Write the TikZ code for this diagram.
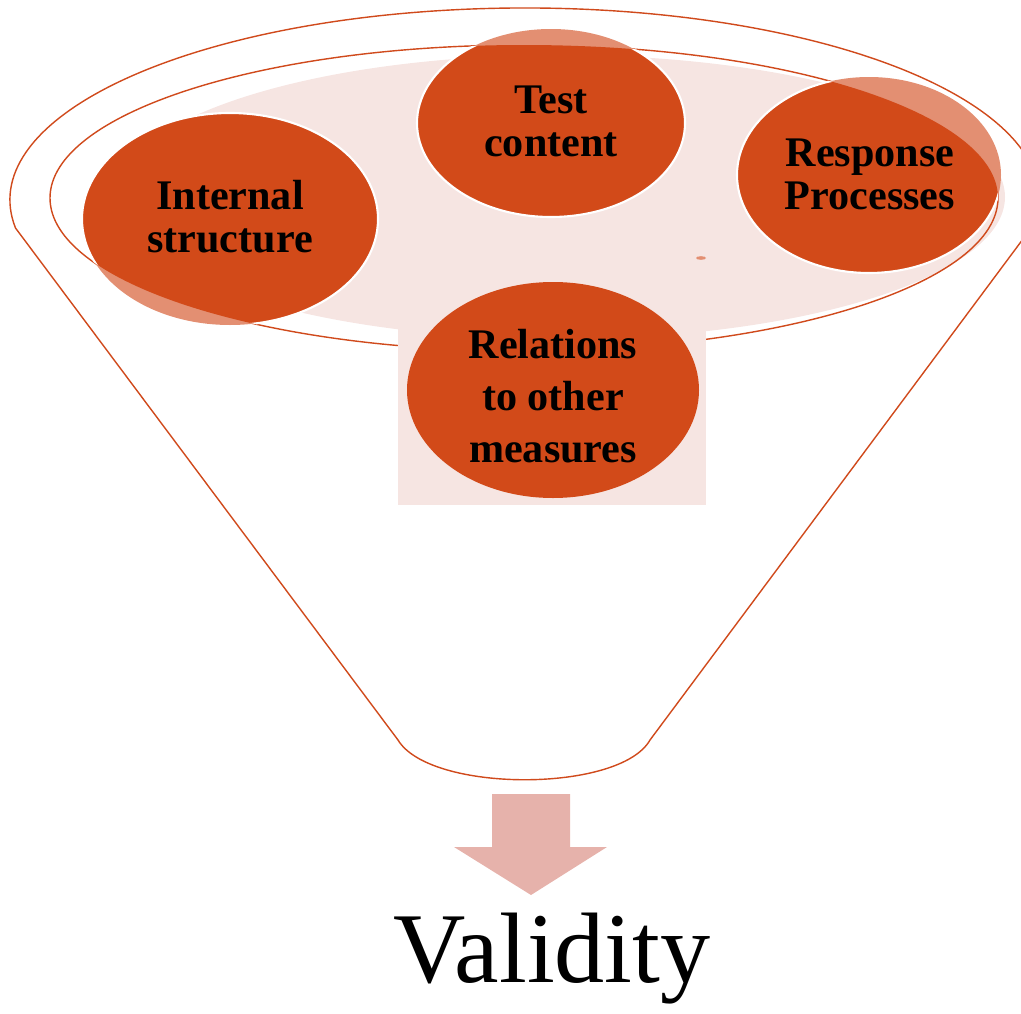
\documentclass[tikz,border=0pt]{standalone}
\usepackage{fontspec}
\setmainfont{Liberation Serif}
\usepackage{tikz}
\usetikzlibrary{shapes.geometric}
\definecolor{FunnelRed}{HTML}{D04A1C}
\definecolor{BubbleRed}{HTML}{D24A19}
\definecolor{BubbleFade}{HTML}{E38F72}
\definecolor{RimPink}{HTML}{F6E5E2}
\definecolor{ArrowPink}{HTML}{E6B2AB}

\begin{document}
\begin{tikzpicture}[x=0.02cm,y=-0.02cm,rim/.style={draw=FunnelRed,line width=0.8pt},bubble/.style={fill=BubbleRed,draw=white,line width=1.2pt},bubbletext/.style={align=center,text=black,font=\fontsize{24}{24.5}\selectfont\bfseries},result/.style={anchor=base,text=black,font=\fontsize{57}{60}\selectfont}]
  \useasboundingbox (0,0) rectangle (1021,1014);
  % funnel body
  \coordinate (rimL) at (15.5,228);
  \coordinate (bowlR) at (650,740);
  \coordinate (bowlL) at (398,740);
  \fill[RimPink] (560,197) ellipse[x radius=445,y radius=142];
  \draw[rim] (rimL) arc[start angle=171.6,end angle=366,x radius=515,y radius=192] -- (bowlR) .. controls (620,793) and (430,793) .. (bowlL) -- cycle;
  \draw[rim] (524,198) ellipse[x radius=474,y radius=153];
  \fill[RimPink] (398,290) rectangle (706,505);
  \fill[BubbleFade] (701,258) ellipse[x radius=5,y radius=1.8];
  % bubbles, faded where they leave the rim
  \foreach \x/\y/\a/\b in {230/219/148/106,551/123/134/94,869/175/132/98}
    \fill[BubbleFade] (\x,\y) ellipse[x radius=\a,y radius=\b];
  \begin{scope}
    \clip (524,198) ellipse[x radius=474,y radius=153];
    \foreach \x/\y/\a/\b in {230/219/148/106,551/123/134/94,869/175/132/98}
      \filldraw[bubble] (\x,\y) ellipse[x radius=\a,y radius=\b];
  \end{scope}
  \fill[BubbleRed] (553,390) ellipse[x radius=146,y radius=108];
  \node[bubbletext] (internal) at (230,217) {Internal\\structure};
  \node[bubbletext] (test) at (551,121) {Test\\content};
  \node[bubbletext] (response) at (870,174) {Response\\Processes};
  \node[bubbletext,font=\fontsize{24}{29.5}\selectfont\bfseries] (relations) at (553,396) {Relations\\to other\\measures};
  % output
  \fill[ArrowPink] (492,794) -- (570,794) -- (570,847) -- (607,847) -- (531,895) -- (454,847) -- (492,847) -- cycle;
  \node[result] (validity) at (552,982) {Validity};
\end{tikzpicture}
\end{document}
